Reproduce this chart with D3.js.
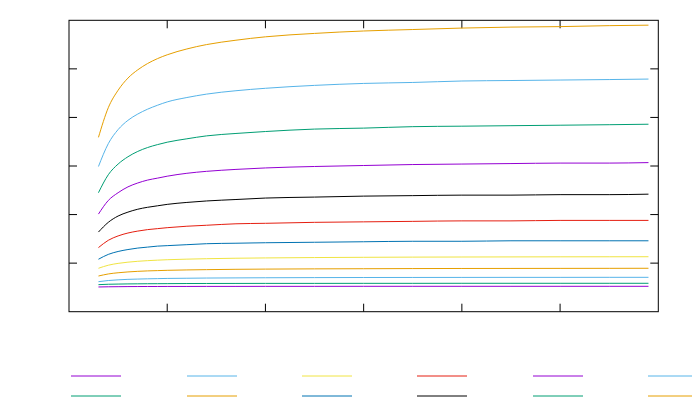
<!DOCTYPE html>
<html><head><meta charset="utf-8">
<script src="https://cdn.jsdelivr.net/npm/d3@7"></script>
<style>html,body{margin:0;padding:0;background:#fff;}svg{display:block;}</style>
</head><body>
<svg id="chart" width="692" height="415"></svg>
<script>
const xValues = [0.3,0.4,0.5,0.6,0.7,0.8,0.9,1.0,1.2,1.4,1.7,2.0,2.5,3.0,3.5,4.0,4.5,5.0,5.5,5.9];
const s1  = [0.509,0.513,0.515,0.517,0.518,0.519,0.519,0.520,0.520,0.521,0.521,0.522,0.522,0.523,0.523,0.523,0.523,0.523,0.523,0.523];
const s2  = [0.557,0.565,0.569,0.572,0.574,0.576,0.577,0.578,0.580,0.581,0.582,0.583,0.583,0.584,0.584,0.585,0.585,0.585,0.585,0.585];
const s3  = [0.618,0.642,0.656,0.666,0.672,0.677,0.681,0.685,0.689,0.693,0.696,0.699,0.702,0.704,0.705,0.706,0.707,0.707,0.708,0.708];
const s4  = [0.735,0.777,0.802,0.819,0.831,0.840,0.846,0.852,0.860,0.866,0.873,0.877,0.882,0.885,0.888,0.890,0.891,0.892,0.893,0.894];
const s5  = [0.894,0.957,0.995,1.020,1.038,1.051,1.061,1.070,1.082,1.091,1.101,1.107,1.115,1.120,1.124,1.126,1.128,1.130,1.131,1.132];
const s6  = [1.08,1.18,1.24,1.28,1.31,1.33,1.35,1.36,1.38,1.40,1.41,1.42,1.43,1.44,1.45,1.45,1.46,1.46,1.46,1.46];
const s7  = [1.32,1.47,1.56,1.62,1.66,1.69,1.71,1.73,1.76,1.78,1.81,1.82,1.84,1.85,1.86,1.87,1.87,1.88,1.88,1.88];
const s8  = [1.64,1.84,1.97,2.05,2.11,2.15,2.18,2.21,2.25,2.28,2.31,2.34,2.36,2.38,2.39,2.40,2.40,2.41,2.41,2.42];
const s9  = [2.01,2.29,2.45,2.57,2.65,2.71,2.75,2.79,2.85,2.89,2.93,2.96,2.99,3.01,3.03,3.04,3.05,3.06,3.06,3.07];
const s10 = [2.45,2.82,3.04,3.19,3.30,3.38,3.44,3.49,3.56,3.62,3.67,3.71,3.76,3.78,3.81,3.82,3.83,3.84,3.85,3.86];
const s11 = [2.99,3.46,3.75,3.94,4.07,4.17,4.25,4.32,4.41,4.48,4.55,4.60,4.66,4.70,4.72,4.75,4.76,4.77,4.78,4.79];
const s12 = [3.59,4.20,4.56,4.81,4.98,5.11,5.21,5.29,5.41,5.50,5.59,5.66,5.73,5.78,5.81,5.84,5.86,5.87,5.89,5.90];
const seriesList = [s1,s2,s3,s4,s5,s6,s7,s8,s9,s10,s11,s12];
const palette = ["#9400d3","#009e73","#56b4e9","#e69f00","#f0e442","#0072b2","#e51e10","#000000"];
const xTicks = [1,2,3,4,5];
const yTicks = [1,2,3,4,5];

const svg = d3.select("#chart");
const x = d3.scaleLinear().domain([0,6]).range([69,658.3]);
const y = d3.scaleLinear().domain([0,6]).range([311.7,20.3]);

const g = svg.append("g");
// ticks (inward, mirrored)
const tl = 8;
g.selectAll(".xtb").data(xTicks).join("line")
  .attr("x1",d=>x(d)).attr("x2",d=>x(d)).attr("y1",y(0)).attr("y2",y(0)-tl)
  .attr("stroke","#000").attr("stroke-width",1);
g.selectAll(".xtt").data(xTicks).join("line").attr("class","xtt")
  .attr("x1",d=>x(d)).attr("x2",d=>x(d)).attr("y1",y(6)).attr("y2",y(6)+tl)
  .attr("stroke","#000").attr("stroke-width",1);
g.selectAll(".ytl").data(yTicks).join("line").attr("class","ytl")
  .attr("x1",x(0)).attr("x2",x(0)+tl).attr("y1",d=>y(d)).attr("y2",d=>y(d))
  .attr("stroke","#000").attr("stroke-width",1);
g.selectAll(".ytr").data(yTicks).join("line").attr("class","ytr")
  .attr("x1",x(6)).attr("x2",x(6)-tl).attr("y1",d=>y(d)).attr("y2",d=>y(d))
  .attr("stroke","#000").attr("stroke-width",1);

const line = d3.line().x((d,i)=>x(xValues[i])).y(d=>y(d)).curve(d3.curveMonotoneX);
svg.append("g").selectAll("path").data(seriesList).join("path")
  .attr("d",d=>line(d)).attr("fill","none")
  .attr("stroke",(d,i)=>palette[i%8]).attr("stroke-width",1);

// border
svg.append("rect").attr("x",x(0)).attr("y",y(6)).attr("width",x(6)-x(0)).attr("height",y(0)-y(6))
  .attr("fill","none").attr("stroke","#000").attr("stroke-width",1);

// legend (samples only)
const legX = [71,187,302,417,533,648];
const legY = [376,396];
const leg = svg.append("g");
seriesList.forEach((s,i)=>{
  const col = Math.floor(i/2), row = i%2;
  leg.append("line").attr("x1",legX[col]).attr("x2",legX[col]+50)
    .attr("y1",legY[row]).attr("y2",legY[row])
    .attr("stroke",palette[i%8]).attr("stroke-width",1);
});
</script>
</body></html>
